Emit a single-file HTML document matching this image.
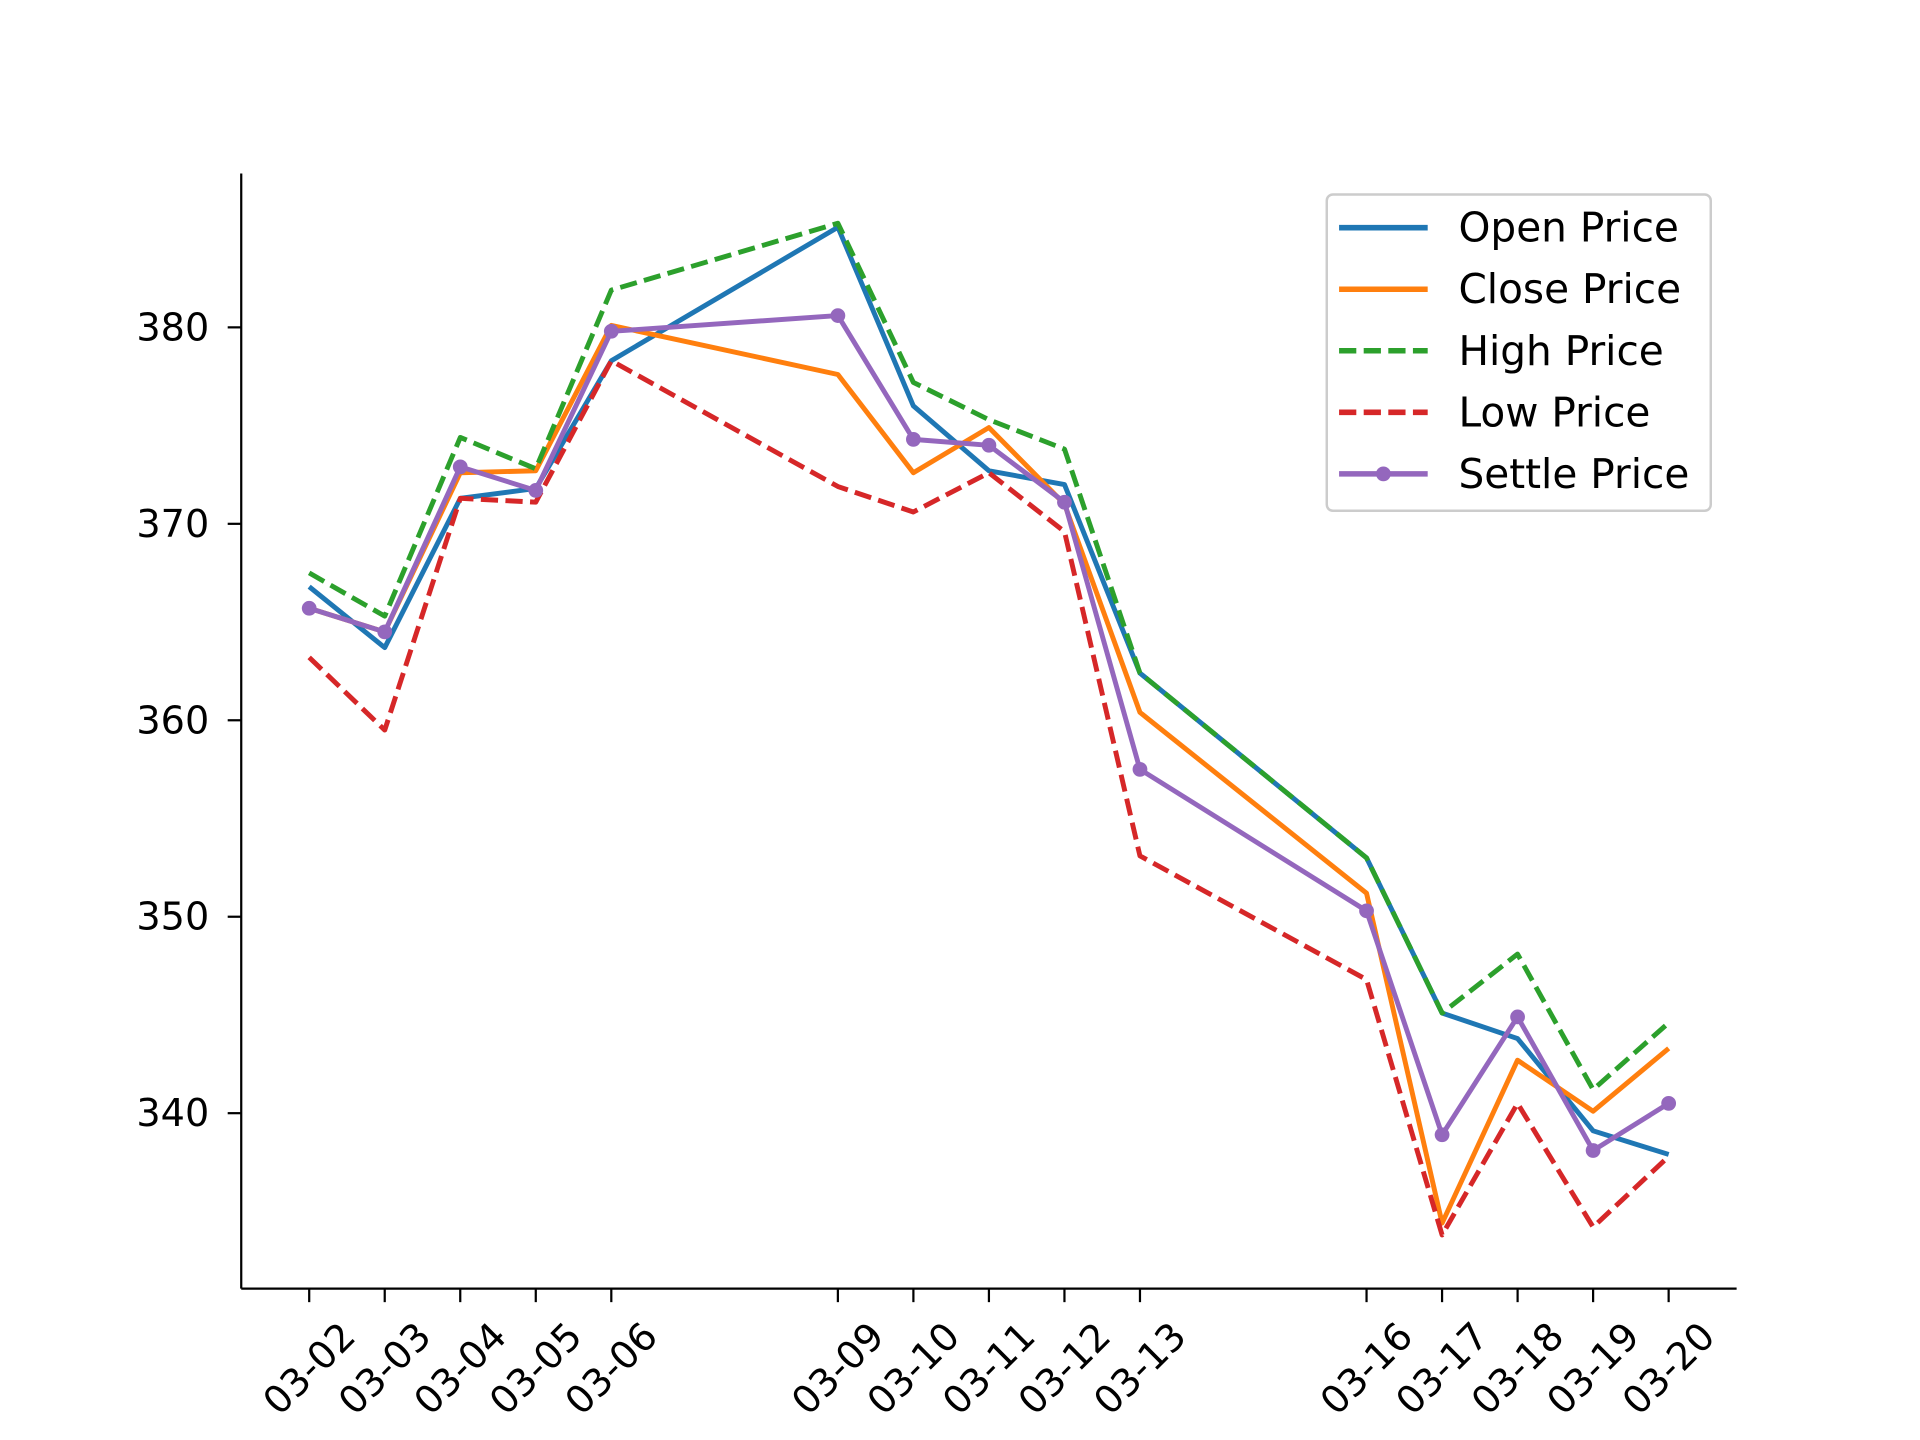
<!DOCTYPE html>
<html><head><meta charset="utf-8"><style>
html,body{margin:0;padding:0;background:#fff;}
svg{display:block;font-family:"DejaVu Sans","Liberation Sans",sans-serif;}
</style></head><body>
<svg id="chart" width="1920" height="1440" viewBox="0 0 1560 1170" xmlns="http://www.w3.org/2000/svg">
<rect width="1560" height="1170" fill="#fff"/>
<g id="plot"></g>
</svg>
<script>
const categories = ["03-02","03-03","03-04","03-05","03-06","03-09","03-10","03-11","03-12","03-13","03-16","03-17","03-18","03-19","03-20"];
const dayOffsets = [0,1,2,3,4,7,8,9,10,11,14,15,16,17,18];
const openPrice = [366.8,363.7,371.3,371.8,378.3,385.1,376.0,372.7,372.0,362.4,353.0,345.1,343.8,339.1,337.9];
const closePrice = [365.7,364.5,372.6,372.7,380.1,377.6,372.6,374.9,371.0,360.4,351.2,334.4,342.7,340.1,343.3];
const highPrice = [367.5,365.3,374.4,372.8,381.9,385.3,377.2,375.3,373.8,362.4,353.0,345.1,348.1,341.2,344.6];
const lowPrice = [363.2,359.5,371.3,371.1,378.3,371.9,370.6,372.6,369.6,353.1,346.8,333.8,340.5,334.2,337.8];
const settlePrice = [365.7,364.5,372.9,371.7,379.8,380.6,374.3,374.0,371.1,357.5,350.3,338.9,344.9,338.1,340.5];
const yTicks = [340,350,360,370,380];
const seriesNames = ["Open Price","Close Price","High Price","Low Price","Settle Price"];

const NS = "http://www.w3.org/2000/svg";
const g = document.getElementById('plot');
const L = 196, R = 1411, T = 141, B = 1047;
const dMin = -0.9, dMax = 18.9;
const vMin = 331.07, vMax = 387.83;
function xs(d){ return L + (d - dMin) / (dMax - dMin) * (R - L); }
function ys(v){ return B - (v - vMin) / (vMax - vMin) * (B - T); }
function mk(tag, attrs){ const e = document.createElementNS(NS, tag); for (const k in attrs) e.setAttribute(k, attrs[k]); g.appendChild(e); return e; }

let e = mk('line',{x1:L,y1:T,x2:L,y2:B,stroke:'#000','stroke-width':1.8});


e = mk('line',{x1:L,y1:B,x2:R,y2:B,stroke:'#000','stroke-width':1.8});



yTicks.forEach(v => {
  const y = ys(v);
  let t = mk('line',{x1:L-11,y1:y,x2:L,y2:y,stroke:'#000','stroke-width':1.8});
  
  
  let tx = mk('text',{x:L-26,y:y,'text-anchor':'end','dominant-baseline':'central','font-size':31,fill:'#000'});
  tx.textContent = v;
  
  
});

categories.forEach((c,i) => {
  const x = xs(dayOffsets[i]);
  let t = mk('line',{x1:x,y1:B,x2:x,y2:B+11,stroke:'#000','stroke-width':1.8});
  
  
  let tx = mk('text',{x:x,y:1112,'text-anchor':'middle','dominant-baseline':'central','font-size':31,fill:'#000',transform:`rotate(-45 ${x} 1112)`});
  tx.textContent = c;
  
  
});

const series = [
  {data:openPrice,color:'#1f77b4',dash:null,marker:false,name:'open-price-line'},
  {data:closePrice,color:'#ff7f0e',dash:null,marker:false,name:'close-price-line'},
  {data:highPrice,color:'#2ca02c',dash:'14 6',marker:false,name:'high-price-line'},
  {data:lowPrice,color:'#d62728',dash:'14 6',marker:false,name:'low-price-line'},
  {data:settlePrice,color:'#9467bd',dash:null,marker:true,name:'settle-price-line'}
];
series.forEach(s => {
  const pts = s.data.map((v,i) => xs(dayOffsets[i]).toFixed(1)+','+ys(v).toFixed(1)).join(' ');
  const a = {points:pts,fill:'none',stroke:s.color,'stroke-width':4,'stroke-linejoin':'round'};
  if (s.dash) a['stroke-dasharray'] = s.dash;
  let p = mk('polyline',a);
  
  
  if (s.marker) s.data.forEach((v,i) => {
    let c = mk('circle',{cx:xs(dayOffsets[i]),cy:ys(v),r:6,fill:s.color});
    
    
  });
});

let box = mk('rect',{x:1078,y:158,width:312,height:257,rx:5,fill:'#fff','fill-opacity':0.8,stroke:'#ccc','stroke-width':2});


series.forEach((s,i) => {
  const y = 185 + i*50;
  const a = {x1:1088,y1:y,x2:1160,y2:y,stroke:s.color,'stroke-width':4.5};
  if (s.dash) a['stroke-dasharray'] = s.dash;
  let l = mk('line',a);
  
  
  if (s.marker) {
    let c = mk('circle',{cx:1124,cy:y,r:6,fill:s.color});
    
    
  }
  let t = mk('text',{x:1185,y:y,'dominant-baseline':'central','font-size':33,fill:'#000'});
  t.textContent = seriesNames[i];
  
  
});
</script>
</body></html>
